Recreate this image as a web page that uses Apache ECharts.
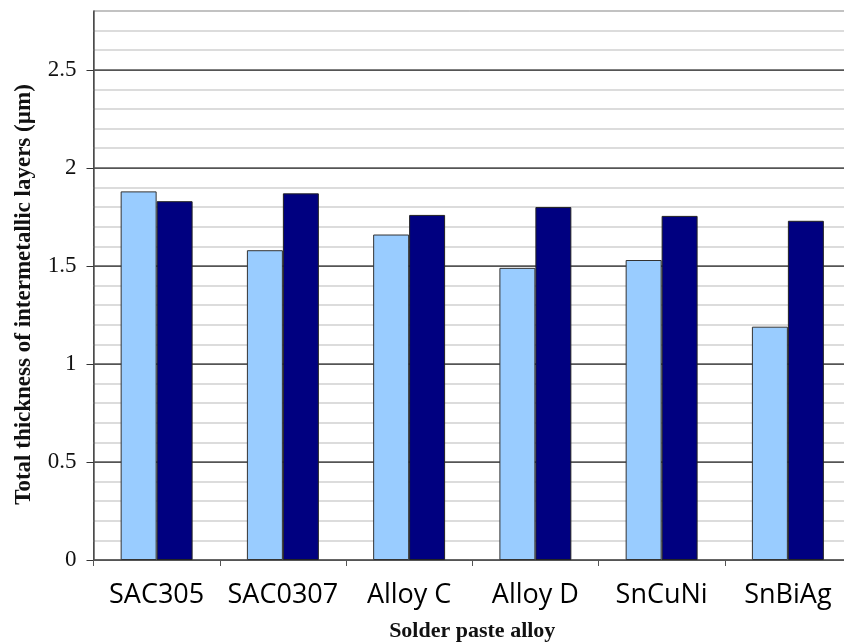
<!DOCTYPE html>
<html>
<head>
<meta charset="utf-8">
<script src="https://cdn.jsdelivr.net/npm/echarts@6/dist/echarts.min.js"></script>
<style>html,body{margin:0;padding:0;background:#fff;}#c{width:844px;height:643px;}</style>
</head>
<body>
<div id="c"></div>
<script>
var categories = ['SAC305', 'SAC0307', 'Alloy C', 'Alloy D', 'SnCuNi', 'SnBiAg'];
var seriesLight = [1.88, 1.58, 1.66, 1.49, 1.53, 1.19];
var seriesDark = [1.83, 1.87, 1.76, 1.80, 1.755, 1.73];
var yTickLabels = [0, 0.5, 1, 1.5, 2, 2.5];

var chart = echarts.init(document.getElementById('c'), null, {renderer: 'canvas'});
var minorColors = ['#555555', '#d0d0d0', '#d0d0d0', '#d0d0d0', '#d0d0d0'];
chart.setOption({
  animation: false,
  backgroundColor: '#ffffff',
  grid: {
    left: 93.5, top: 11, right: -7, bottom: 83,
    show: true, borderColor: '#333', borderWidth: 1,
    containLabel: false, outerBoundsMode: 'none'
  },
  xAxis: {
    type: 'category',
    data: categories,
    name: 'Solder paste alloy',
    nameLocation: 'middle',
    nameGap: 60,
    nameTextStyle: {fontFamily: 'Liberation Serif', fontWeight: 'bold', fontSize: 22, color: '#111'},
    axisLine: {show: true, lineStyle: {color: '#555', width: 1}},
    axisTick: {show: true, inside: false, length: 6, alignWithLabel: false, lineStyle: {color: '#555'}},
    axisLabel: {fontFamily: 'Open Sans', fontSize: 27, color: '#000', margin: 22, interval: 0},
    splitLine: {show: false}
  },
  yAxis: [
    {
      type: 'value',
      min: 0, max: 2.8, interval: 0.1,
      position: 'left',
      axisLine: {show: false},
      axisTick: {show: false},
      axisLabel: {show: false},
      splitLine: {show: true, lineStyle: {color: minorColors, width: 1.5}}
    },
    {
      type: 'value',
      min: 0, max: 2.8, interval: 0.1,
      position: 'left',
      name: 'Total thickness of intermetallic layers (\u00b5m)',
      nameLocation: 'middle',
      nameGap: 58,
      nameRotate: 90,
      nameTextStyle: {fontFamily: 'Liberation Serif', fontWeight: 'bold', fontSize: 23, color: '#111', padding: [0, 18, 0, 0]},
      axisLine: {show: true, lineStyle: {color: '#555', width: 1.5}},
      axisTick: {show: true, inside: false, length: 7, customValues: yTickLabels, lineStyle: {color: '#333'}},
      axisLabel: {
        customValues: yTickLabels,
        fontFamily: 'Liberation Serif', fontSize: 23, color: '#111', margin: 17,
        formatter: function (v) { return String(Math.round(v * 10) / 10); }
      },
      splitLine: {show: true, lineStyle: {color: '#555555', width: 1.2}}
    }
  ],
  series: [
    {
      name: 'Series 1', type: 'bar', data: seriesLight, yAxisIndex: 1,
      barGap: '0%', barCategoryGap: '43%',
      itemStyle: {color: '#99ccff', borderColor: '#333', borderWidth: 1}
    },
    {
      name: 'Series 2', type: 'bar', data: seriesDark, yAxisIndex: 1,
      barGap: '0%', barCategoryGap: '43%',
      itemStyle: {color: '#000080', borderColor: '#222', borderWidth: 1}
    }
  ]
});
</script>
</body>
</html>
